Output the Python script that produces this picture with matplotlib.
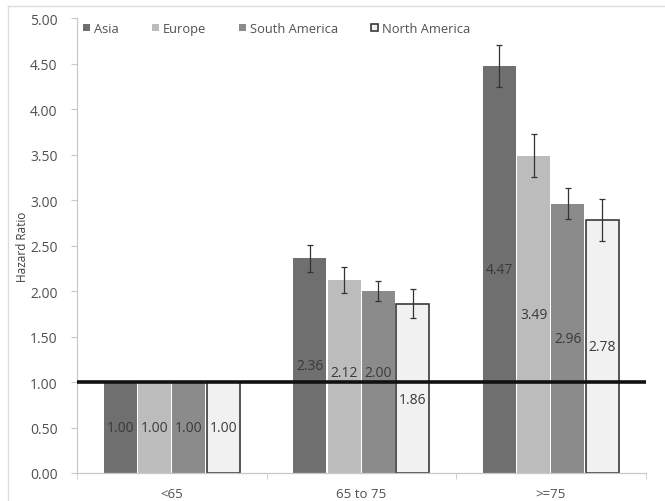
import numpy as np
import matplotlib
matplotlib.use("Agg")
import matplotlib.pyplot as plt
from matplotlib.lines import Line2D

plt.rcParams['font.family'] = ['Open Sans', 'DejaVu Sans']

categories = ['<65', '65 to 75', '>=75']
regions = ['Asia', 'Europe', 'South America', 'North America']
asia = [1.00, 2.36, 4.47]
europe = [1.00, 2.12, 3.49]
south_america = [1.00, 2.00, 2.96]
north_america = [1.00, 1.86, 2.78]
asia_err = [0, 0.15, 0.23]
europe_err = [0, 0.14, 0.24]
south_america_err = [0, 0.11, 0.17]
north_america_err = [0, 0.16, 0.23]

values = [asia, europe, south_america, north_america]
errors = [asia_err, europe_err, south_america_err, north_america_err]
colors = ['#6f6f6f', '#bcbcbc', '#8b8b8b', '#f1f1f1']
edges = ['#6f6f6f', '#bcbcbc', '#8b8b8b', '#3a3a3a']

fig = plt.figure(figsize=(6.65, 5.02), dpi=100)
ax = fig.add_axes([0.1158, 0.0558, 0.855, 0.906])

x = np.arange(len(categories))
step = 0.181
w = 0.174
for i, (vals, errs) in enumerate(zip(values, errors)):
    pos = x + (i - 1.5) * step
    ax.bar(pos, vals, w, color=colors[i], edgecolor=edges[i],
           linewidth=1.2 if i == 3 else 0, label=regions[i], zorder=2)
    e = np.array(errs, dtype=float)
    mask = e > 0
    ax.errorbar(pos[mask], np.array(vals)[mask], yerr=e[mask], fmt='none',
                ecolor='#333333', elinewidth=0.9, capsize=2.5, capthick=0.9, zorder=3)
    for p, v in zip(pos, vals):
        c = v / 2
        # labels sitting on the reference line get nudged off it
        if v > 1.5 and abs(c - 1) < 0.1:
            c = 1.11 if c >= 1 else 0.81
        ax.text(p, c, f'{v:.2f}', ha='center', va='center', fontsize=10,
                color='#3a3a3a', zorder=4)

ax.axhline(1.0, color='#111111', lw=2.6, zorder=5)

ax.set_xlim(-0.5, 2.5)
ax.set_ylim(0, 5)
ax.set_yticks(np.arange(0, 5.01, 0.5))
ax.set_yticklabels([f'{t:.2f}' for t in np.arange(0, 5.01, 0.5)])
ax.set_xticks(x)
ax.set_xticklabels(categories)
ax.set_xticks([-0.5, 0.5, 1.5, 2.5], minor=True)
ax.tick_params(axis='x', which='major', length=0, pad=10, labelsize=9.5, labelcolor='#505050')
ax.tick_params(axis='x', which='minor', length=4, color='#c8c8c8', direction='out')
ax.tick_params(axis='y', length=4, color='#c8c8c8', pad=10, labelsize=10, labelcolor='#505050')
for s in ['top', 'right']:
    ax.spines[s].set_visible(False)
for s in ['left', 'bottom']:
    ax.spines[s].set_color('#c8c8c8')
    ax.spines[s].set_linewidth(0.9)

ax.set_ylabel('Hazard Ratio', fontsize=8.5, color='#404040')
ax.yaxis.set_label_coords(-0.085, 0.5)

leg = ax.legend(loc='upper left', ncol=4, frameon=False, fontsize=9.3,
                bbox_to_anchor=(0.0, 1.005), handlelength=0.5, handleheight=0.5,
                handletextpad=0.3, columnspacing=2.6, borderaxespad=0.1)
for t in leg.get_texts():
    t.set_color('#505050')

# light frame around the chart
fig.add_artist(Line2D([0.012, 0.012], [0.0, 0.986], transform=fig.transFigure,
                      color='#dddddd', lw=1))
fig.add_artist(Line2D([0.012, 1.0], [0.986, 0.986], transform=fig.transFigure,
                      color='#dddddd', lw=1))

fig.savefig('out.png', dpi=100, facecolor='white')
